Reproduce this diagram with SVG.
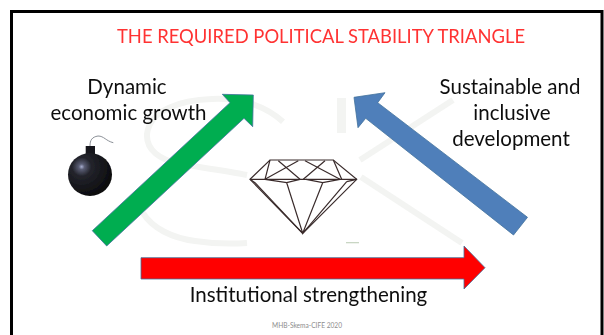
<svg xmlns="http://www.w3.org/2000/svg" width="604" height="335" viewBox="0 0 604 335">
<style>
text{font-family:"Lato","Open Sans","Liberation Sans",sans-serif;text-anchor:middle;fill:#111}
.lbl{font-size:20.5px}
.wm{fill:none;stroke:#f3f4f2;stroke-width:6}
.arrow{stroke:#41719c;stroke-width:.8}
.gem{fill:none;stroke:#3a2c2c;stroke-width:1.200}
</style>
<defs>
<radialGradient id="bombFill" cx=".31" cy=".32" r=".72">
<stop offset="0" stop-color="#a8aed0"/><stop offset=".09" stop-color="#5a5d74"/><stop offset=".3" stop-color="#23242c"/><stop offset="1" stop-color="#0b0b0d"/>
</radialGradient>
<filter id="soft" x="-10%" y="-10%" width="120%" height="120%"><feGaussianBlur stdDeviation=".4"/></filter>
<filter id="softText" x="-5%" y="-20%" width="110%" height="140%"><feGaussianBlur stdDeviation=".25"/></filter>
</defs>
<rect width="604" height="335" fill="#fff"/>
<path d="M11.500 335V11.500H602V335" fill="none" stroke="#000" stroke-width="3"/>
<g id="watermark">
<path class="wm" d="M283 121.700C262 103 235 98 212 99C180 100 150 110 147 134C146 150 160 160 180 164C205 168 228 171 247 175"/>
<path class="wm" d="M143 213C152 228 172 238 195 241C215 244 232 244 247 243"/>
<path class="wm" style="stroke-width:9" d="M341.500 98V133"/>
<path class="wm" d="M453 100L360 160"/>
<path class="wm" d="M361 177L462 243"/>
</g>
<g id="title" filter="url(#softText)"><text x="321" y="43" font-size="19.500" style="fill:#ff3333" textLength="408" lengthAdjust="spacingAndGlyphs">THE REQUIRED POLITICAL STABILITY TRIANGLE</text></g>
<g id="connectors">
<polygon class="arrow" fill="#00ad50" points="92.300,230.700 230,102.700 222.300,94.300 253.300,95 252.700,126.700 244,118.300 106.700,246"/>
<polygon class="arrow" fill="#4f7fba" points="527.500,217.300 377.700,102.700 385,92.700 354,97.300 358,127.700 365.700,118.300 513.500,235"/>
<polygon class="arrow" fill="#ff0000" points="141,257.700 464,257.700 464,246 485,267.700 464,289 464,279 141,279"/>
</g>
<g id="node-growth" filter="url(#softText)"><text class="lbl" x="127" y="94">Dynamic</text><text class="lbl" x="128.500" y="120">economic growth</text></g>
<g id="node-development" filter="url(#softText)"><text class="lbl" x="510" y="94">Sustainable and</text><text class="lbl" x="512" y="120">inclusive</text><text class="lbl" x="511" y="146">development</text></g>
<g id="node-institutional" filter="url(#softText)"><text class="lbl" x="308.500" y="302">Institutional strengthening</text></g>
<g id="bomb" filter="url(#soft)">
<path d="M90 146C90 140 92 137 98 136C104 136 106 141 113.300 142.700" fill="none" stroke="#8a8f96" stroke-width="1"/>
<rect x="85.700" y="146" width="9.300" height="9" fill="#15161a"/>
<ellipse cx="90" cy="174.500" rx="22" ry="21.500" fill="url(#bombFill)"/>
</g>
<g id="diamond" filter="url(#soft)">
<path class="gem" d="M270 160H333.300L356.700 179.300L302.700 233.300L250 179.300Z"/>
<path class="gem" d="M250 179.300H356.700"/>
<path class="gem" d="M270 160L265 179.300M333.300 160L341.700 179.300M278.300 160.700L300 179.300M298.300 160.700L265 179.300M305 160.700L340 179.300M325 160.700L303.300 179.300"/>
<path class="gem" d="M286.700 182.700L302.700 233.300L322.700 182.700M255 182.700L302.700 233.300M346.700 181.700L302.700 233.300M250 179.300L255 182.700M356.700 179.300L346.700 181.700M265 179.300L286.700 182.700L300 179.300M306 179.300L322.700 182.700L340 179.300"/>
</g>
<g id="credit"><rect x="346" y="242" width="13" height="1.300" fill="#c9d6c4"/></g>
<g id="footer"><text x="307" y="328" font-size="6.600" style="fill:#8c8c8c">MHB-Skema-CIFE 2020</text></g>
</svg>
